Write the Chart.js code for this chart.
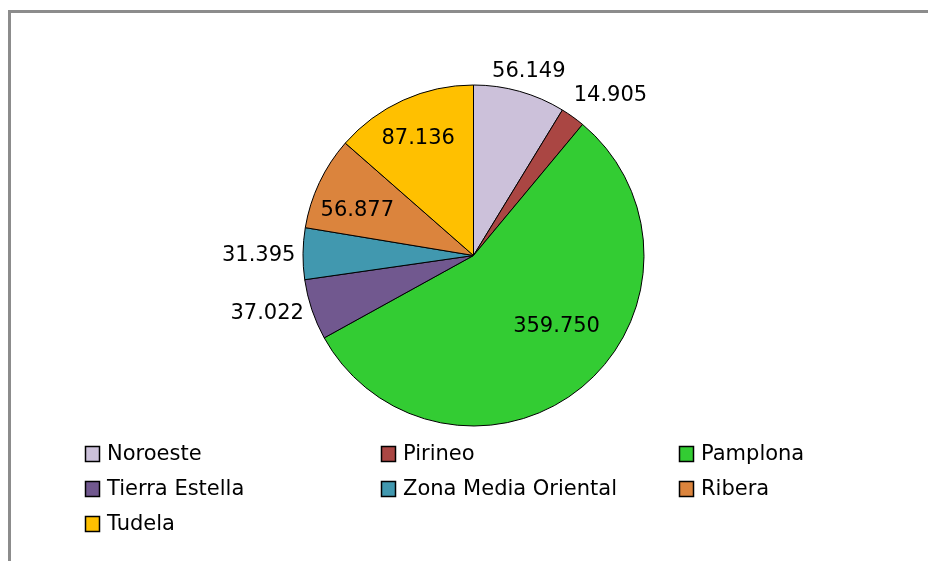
<!DOCTYPE html>
<html>
<head>
<meta charset="utf-8">
<script src="https://cdn.jsdelivr.net/npm/chart.js@4/dist/chart.umd.min.js"></script>
<style>
  html, body { margin: 0; padding: 0; background: #fff; }
  #wrap { position: relative; width: 928px; height: 561px; overflow: hidden; }
  #frame {
    position: absolute; left: 8px; top: 10px; right: -5px; bottom: -5px;
    border-top: 3px solid #8c8c8c; border-left: 3px solid #8c8c8c;
  }
  #c { position: absolute; left: 0; top: 0; }
</style>
</head>
<body>
<div id="wrap">
  <div id="frame"></div>
  <canvas id="c" width="928" height="561"></canvas>
</div>
<script>
// datos por comarca
const comarcas = ['Noroeste', 'Pirineo', 'Pamplona', 'Tierra Estella', 'Zona Media Oriental', 'Ribera', 'Tudela'];
const valores = [56149, 14905, 359750, 37022, 31395, 56877, 87136];
const colores = ['#CCC1DA', '#AA4643', '#33CC33', '#71588F', '#4198AF', '#DB843D', '#FFC000'];

// colocación de etiquetas: factor de radio y desplazamiento de ángulo (grados)
const etiquetaRadio = [1.127, 1.234, 0.64, 1.257, 1.26, 0.73, 0.76];
const etiquetaGiro = [1, 5, -10, 2.8, -0.6, -4.3, -0.9];

const FUENTE = '21px "DejaVu Sans", sans-serif';

// formato con punto de miles
function miles(v) {
  return String(v).replace(/\B(?=(\d{3})+(?!\d))/g, '.');
}

const etiquetasPlugin = {
  id: 'etiquetas',
  afterDatasetsDraw(chart) {
    const ctx = chart.ctx;
    const meta = chart.getDatasetMeta(0);
    ctx.save();
    ctx.font = FUENTE;
    ctx.fillStyle = '#000';
    ctx.textAlign = 'center';
    ctx.textBaseline = 'middle';
    meta.data.forEach((arc, i) => {
      const p = arc.getProps(['x', 'y', 'startAngle', 'endAngle', 'outerRadius'], true);
      const a = (p.startAngle + p.endAngle) / 2 + etiquetaGiro[i] * Math.PI / 180;
      const r = p.outerRadius * etiquetaRadio[i];
      ctx.fillText(miles(chart.data.datasets[0].data[i]), p.x + Math.cos(a) * r, p.y + Math.sin(a) * r);
    });
    ctx.restore();
  }
};

// leyenda en tres columnas
const leyendaPlugin = {
  id: 'leyenda',
  afterDraw(chart) {
    const ctx = chart.ctx;
    const colX = [85, 381, 679];
    const filaY = [454, 489, 524];
    ctx.save();
    ctx.font = FUENTE;
    ctx.textBaseline = 'middle';
    chart.data.labels.forEach((lab, i) => {
      const x = colX[i % 3];
      const y = filaY[Math.floor(i / 3)];
      ctx.fillStyle = chart.data.datasets[0].backgroundColor[i];
      ctx.fillRect(x, y - 8, 15, 16);
      ctx.strokeStyle = '#000';
      ctx.lineWidth = 1.5;
      ctx.strokeRect(x + 0.5, y - 7.5, 14, 15);
      ctx.fillStyle = '#000';
      ctx.fillText(lab, x + 22, y + 1);
    });
    ctx.restore();
  }
};

new Chart(document.getElementById('c'), {
  type: 'pie',
  data: {
    labels: comarcas,
    datasets: [{
      data: valores,
      backgroundColor: colores,
      borderColor: '#000',
      borderWidth: 1
    }]
  },
  options: {
    responsive: false,
    animation: false,
    layout: {
      padding: { left: 302.5, right: 283.5, top: 84.5, bottom: 134.5 }
    },
    plugins: {
      legend: { display: false },
      tooltip: { enabled: false }
    }
  },
  plugins: [etiquetasPlugin, leyendaPlugin]
});
</script>
</body>
</html>
